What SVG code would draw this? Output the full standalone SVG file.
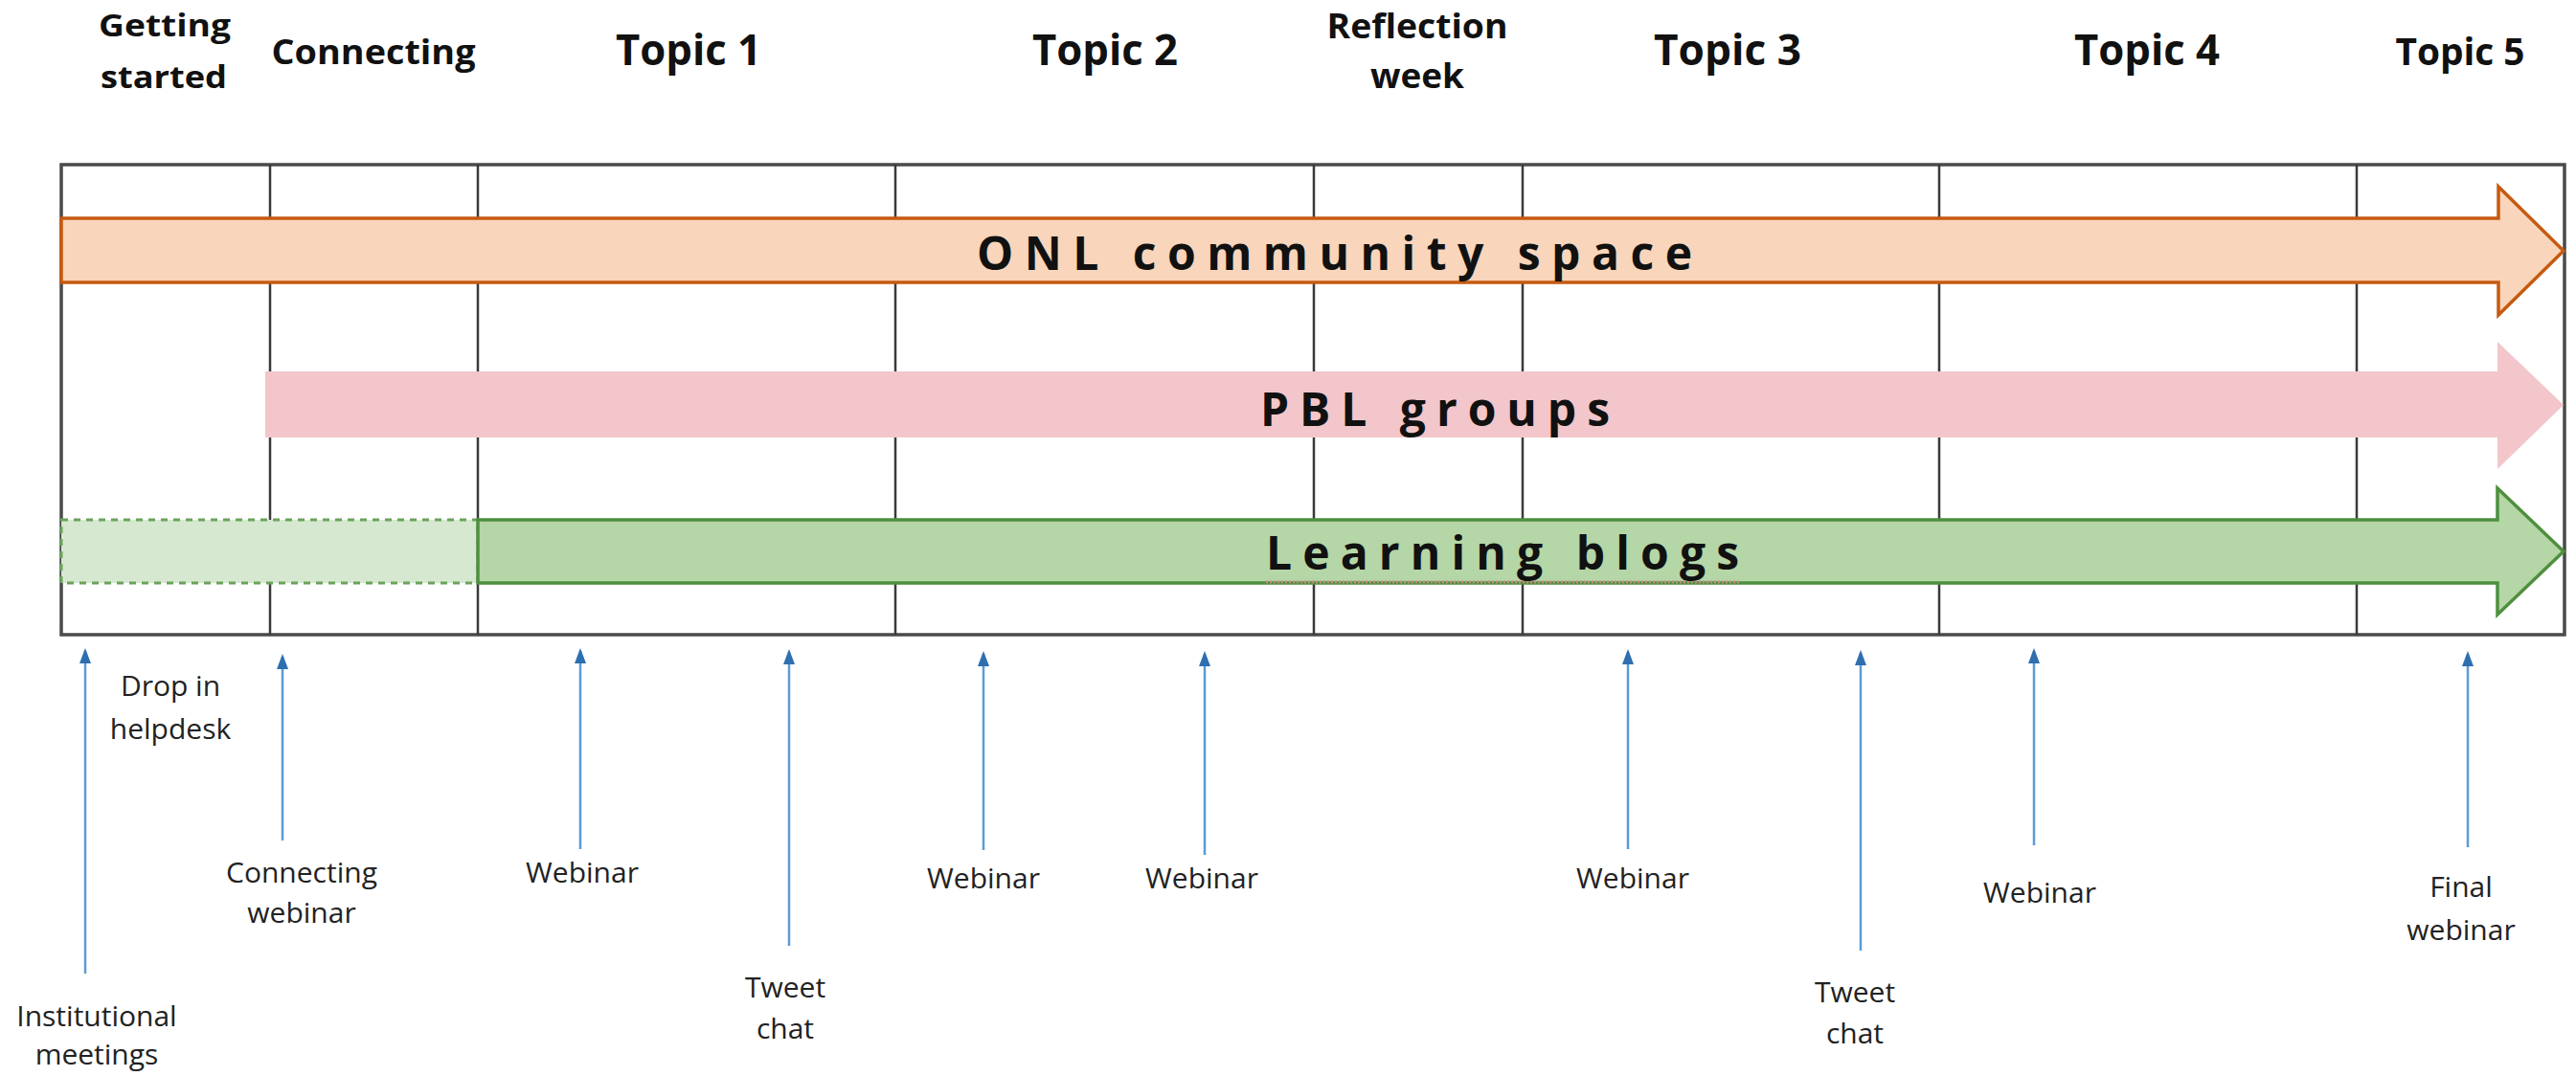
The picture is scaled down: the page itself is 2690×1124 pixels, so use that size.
<svg xmlns="http://www.w3.org/2000/svg" width="2690" height="1124" viewBox="0 0 2690 1124">
<style>
.hdr{font-family:"Open Sans","Liberation Sans",sans-serif;font-weight:700;fill:#111;text-anchor:middle}
.bar{font-family:"Open Sans","Liberation Sans",sans-serif;font-weight:700;font-size:48px;fill:#111}
.lbl{font-family:"Open Sans","Liberation Sans",sans-serif;font-size:30px;fill:#222;text-anchor:middle}
.div{stroke:#3a3a3a;stroke-width:2.5}
.ev{stroke:#5b9bd5;stroke-width:2.5;fill:none;marker-end:url(#ah)}
</style>
<defs>
<marker id="ah" markerUnits="userSpaceOnUse" viewBox="0 0 16 12" markerWidth="16" markerHeight="12" refX="13" refY="6" orient="auto">
<path d="M0,0 L16,6 L0,12 Z" fill="#2e6fb0"/>
</marker>
</defs>
<rect width="2690" height="1124" fill="#fff"/>

<g id="frame">
<rect x="64" y="172" width="2614" height="491" fill="#fff" stroke="#4a4a4a" stroke-width="3.5"/>
<line class="div" x1="282" y1="172" x2="282" y2="663"/>
<line class="div" x1="499" y1="172" x2="499" y2="663"/>
<line class="div" x1="935" y1="172" x2="935" y2="663"/>
<line class="div" x1="1372" y1="172" x2="1372" y2="663"/>
<line class="div" x1="1590" y1="172" x2="1590" y2="663"/>
<line class="div" x1="2025" y1="172" x2="2025" y2="663"/>
<line class="div" x1="2461" y1="172" x2="2461" y2="663"/>
</g>

<g id="headers">
<g id="h-getting-started">
<text class="hdr" font-size="33" x="172" y="38" textLength="138" lengthAdjust="spacingAndGlyphs">Getting</text>
<text class="hdr" font-size="33" x="171" y="92" textLength="132" lengthAdjust="spacingAndGlyphs">started</text>
</g>
<g id="h-connecting"><text class="hdr" font-size="35" x="390" y="67" textLength="213" lengthAdjust="spacingAndGlyphs">Connecting</text></g>
<g id="h-topic1"><text class="hdr" font-size="44" x="719" y="68" textLength="152" lengthAdjust="spacingAndGlyphs">Topic 1</text></g>
<g id="h-topic2"><text class="hdr" font-size="44" x="1154" y="68" textLength="152" lengthAdjust="spacingAndGlyphs">Topic 2</text></g>
<g id="h-reflection">
<text class="hdr" font-size="35" x="1480" y="40" textLength="189" lengthAdjust="spacingAndGlyphs">Reflection</text>
<text class="hdr" font-size="35" x="1480" y="92" textLength="98" lengthAdjust="spacingAndGlyphs">week</text>
</g>
<g id="h-topic3"><text class="hdr" font-size="44" x="1804" y="68" textLength="154" lengthAdjust="spacingAndGlyphs">Topic 3</text></g>
<g id="h-topic4"><text class="hdr" font-size="44" x="2242" y="68" textLength="152" lengthAdjust="spacingAndGlyphs">Topic 4</text></g>
<g id="h-topic5"><text class="hdr" font-size="40" x="2569" y="68" textLength="135" lengthAdjust="spacingAndGlyphs">Topic 5</text></g>
</g>

<g id="onl-community-space">
<path d="M64,228 L2609,228 L2609,195 L2677,262 L2609,329 L2609,295 L64,295 Z" fill="#f8d5bb" stroke="#c55a11" stroke-width="3.5" stroke-linejoin="miter"/>
<text class="bar" x="1020" y="282" textLength="747">ONL community space</text>
</g>

<g id="pbl-groups">
<path d="M277,388 L2608,388 L2608,357 L2677,423 L2608,490 L2608,457 L277,457 Z" fill="#f2c6ca"/>
<text class="bar" x="1316" y="445" textLength="365">PBL groups</text>
</g>

<g id="learning-blogs">
<rect x="64" y="543" width="435" height="66" fill="#d6e9d0" stroke="#6aa35a" stroke-width="3" stroke-dasharray="7 6"/>
<path d="M499,543 L2608,543 L2608,510 L2677,576 L2608,642 L2608,609 L499,609 Z" fill="#b5d6a6" stroke="#4e8f3e" stroke-width="3.5"/>
<line x1="1322" y1="608" x2="1816" y2="608" stroke="#c08a7a" stroke-width="3" stroke-dasharray="2 2"/>
<text class="bar" x="1322" y="595" textLength="494">Learning blogs</text>
</g>

<g id="connectors">
<line class="ev" x1="89" y1="1017" x2="89" y2="680"/>
<line class="ev" x1="295" y1="878" x2="295" y2="686"/>
<line class="ev" x1="606" y1="887" x2="606" y2="680"/>
<line class="ev" x1="824" y1="988" x2="824" y2="681"/>
<line class="ev" x1="1027" y1="888" x2="1027" y2="683"/>
<line class="ev" x1="1258" y1="893" x2="1258" y2="683"/>
<line class="ev" x1="1700" y1="887" x2="1700" y2="681"/>
<line class="ev" x1="1943" y1="993" x2="1943" y2="682"/>
<line class="ev" x1="2124" y1="883" x2="2124" y2="680"/>
<line class="ev" x1="2577" y1="885" x2="2577" y2="683"/>
</g>

<g id="events">
<g id="e-helpdesk"><text class="lbl" x="178" y="727">Drop in</text><text class="lbl" x="178" y="772">helpdesk</text></g>
<g id="e-institutional"><text class="lbl" x="101" y="1072">Institutional</text><text class="lbl" x="101" y="1112">meetings</text></g>
<g id="e-connecting-webinar"><text class="lbl" x="315" y="922">Connecting</text><text class="lbl" x="315" y="964">webinar</text></g>
<g id="e-webinar1"><text class="lbl" x="608" y="922">Webinar</text></g>
<g id="e-tweet1"><text class="lbl" x="820" y="1042">Tweet</text><text class="lbl" x="820" y="1085">chat</text></g>
<g id="e-webinar2"><text class="lbl" x="1027" y="928">Webinar</text></g>
<g id="e-webinar3"><text class="lbl" x="1255" y="928">Webinar</text></g>
<g id="e-webinar4"><text class="lbl" x="1705" y="928">Webinar</text></g>
<g id="e-tweet2"><text class="lbl" x="1937" y="1047">Tweet</text><text class="lbl" x="1937" y="1090">chat</text></g>
<g id="e-webinar5"><text class="lbl" x="2130" y="943">Webinar</text></g>
<g id="e-final"><text class="lbl" x="2570" y="937">Final</text><text class="lbl" x="2570" y="982">webinar</text></g>
</g>
</svg>
